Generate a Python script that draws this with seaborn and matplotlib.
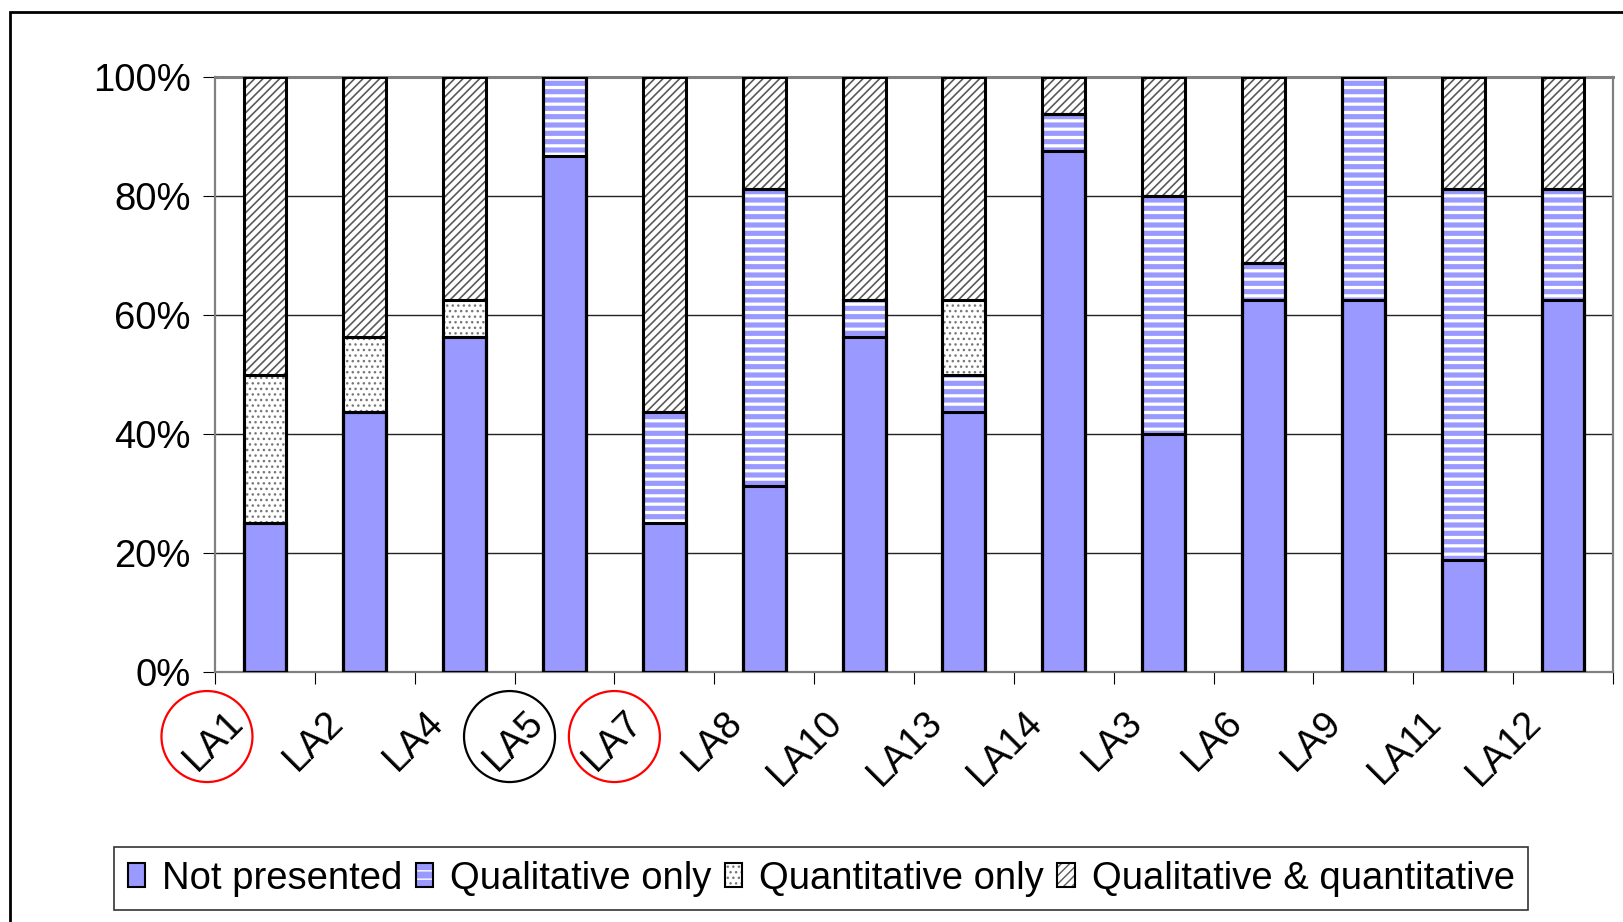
import matplotlib
matplotlib.use("Agg")
import matplotlib.pyplot as plt
import numpy as np
import pandas as pd
import seaborn as sns
from matplotlib.patches import Ellipse, Patch, Rectangle
from matplotlib.transforms import ScaledTranslation
from matplotlib.ticker import FuncFormatter

# Share of items per local authority (percent)
areas = ['LA1', 'LA2', 'LA4', 'LA5', 'LA7', 'LA8', 'LA10', 'LA13', 'LA14',
         'LA3', 'LA6', 'LA9', 'LA11', 'LA12']
not_presented = [25, 43.75, 56.25, 86.7, 25, 31.25, 56.25, 43.75, 87.5,
                 40, 62.5, 62.5, 18.75, 62.5]
qualitative_only = [0, 0, 0, 13.3, 18.75, 50, 6.25, 6.25, 6.25,
                    40, 6.25, 37.5, 62.5, 18.75]
quantitative_only = [25, 12.5, 6.25, 0, 0, 0, 0, 12.5, 0,
                     0, 0, 0, 0, 0]
qual_and_quant = [50, 43.75, 37.5, 0, 56.25, 18.75, 37.5, 37.5, 6.25,
                  20, 31.25, 0, 18.75, 18.75]
series_names = ['Not presented', 'Qualitative only', 'Quantitative only',
                'Qualitative & quantitative']

# areas that are ringed below the axis
circled = ['LA1', 'LA5', 'LA7']
circle_colors = ['red', 'black', 'red']
circle_dx = [-58, -55, -50]   # px from the tick, ellipse centre

df = pd.DataFrame({'area': areas, 'np': not_presented, 'ql': qualitative_only,
                   'qn': quantitative_only, 'both': qual_and_quant})
df['c1'] = df['np']
df['c2'] = df['c1'] + df['ql']
df['c3'] = df['c2'] + df['qn']
df['c4'] = df['c3'] + df['both']

sns.set_theme(style='white')
plt.rcParams['font.family'] = ['Liberation Sans', 'DejaVu Sans']
plt.rcParams['text.color'] = 'black'
plt.rcParams['xtick.color'] = 'black'
plt.rcParams['ytick.color'] = 'black'
plt.rcParams['xtick.labelcolor'] = 'black'
plt.rcParams['ytick.labelcolor'] = 'black'
FS = 27.5

fig = plt.figure(figsize=(16.23, 9.22), dpi=100)
ax = fig.add_axes([0.1325, 0.2711, 0.8613, 0.6454])

BLUE = '#9999FF'
# (cumulative column, face, hatch, hatch colour, hatch lw) drawn top layer first
styles = [('c4', 'white', '////', '#5a5a5a', 1.2),
          ('c3', 'white', '...', '#777777', 1.0),
          ('c2', BLUE, '--', 'white', 2.3),
          ('c1', BLUE, None, BLUE, 1.0)]

for col, face, hatch, hcol, hlw in styles:
    n0 = len(ax.patches)
    with plt.rc_context({'hatch.linewidth': hlw}):
        sns.barplot(data=df, x='area', y=col, color=face, saturation=1,
                    edgecolor=hcol, linewidth=0, hatch=hatch, width=0.43,
                    errorbar=None, ax=ax, zorder=2)
    for p in ax.patches[n0:]:
        if hasattr(p, 'set_hatch_linewidth'):
            p.set_hatch_linewidth(hlw)

# black outlines on every segment
for col, *_ in styles:
    n0 = len(ax.patches)
    sns.barplot(data=df, x='area', y=col, color='black', fill=False,
                linewidth=2.2, width=0.43, errorbar=None, ax=ax, zorder=3)
    for p in ax.patches[n0:]:
        p.set_facecolor('none')
        p.set_edgecolor('black')
        p.set_linewidth(2.2)

ax.set_ylim(0, 100)
ax.set_xlim(-0.5, len(areas) - 0.5)
ax.set_yticks([0, 20, 40, 60, 80, 100])
ax.yaxis.set_major_formatter(FuncFormatter(lambda v, pos: f'{v:.0f}%'))
ax.set_xticks(np.arange(-0.5, len(areas), 1), minor=True)
ax.set_xlabel('')
ax.set_ylabel('')

ax.set_axisbelow(True)
ax.yaxis.grid(True, color='#222222', linewidth=1.0)
ax.xaxis.grid(False)
for side, sp in ax.spines.items():
    sp.set_visible(True)
    sp.set_color('#808080')
    sp.set_linewidth(1.6)
ax.spines['top'].set_linewidth(2.2)

ax.tick_params(axis='y', which='major', direction='out', length=8.6, width=0.8,
               color='black', pad=9, labelsize=FS, left=True, labelcolor='black')
ax.tick_params(axis='x', which='minor', direction='out', length=8.6, width=0.8,
               color='black', bottom=True)
ax.tick_params(axis='x', which='major', length=0, pad=32, labelsize=FS,
               labelcolor='black')
shift = ScaledTranslation(-0.27, 0, fig.dpi_scale_trans)
for lab in ax.get_xticklabels():
    lab.set_rotation(45)
    lab.set_ha('right')
    lab.set_va('center')
    lab.set_rotation_mode('anchor')
    lab.set_transform(lab.get_transform() + shift)

# rings around some of the area labels
for name, c, dx in zip(circled, circle_colors, circle_dx):
    i = areas.index(name)
    ring = Ellipse((dx / 100, -0.645), 0.91, 0.91, fill=False, edgecolor=c,
                   linewidth=1.6,
                   transform=fig.dpi_scale_trans + ScaledTranslation(i, 0, ax.transData))
    fig.add_artist(ring)

# legend
leg_styles = [(BLUE, None, BLUE, 1.0), (BLUE, '--', 'white', 1.2),
              ('white', '...', '#777777', 1.0), ('white', '////', '#5a5a5a', 0.9)]
handles = []
for face, hatch, hcol, hlw in leg_styles:
    with plt.rc_context({'hatch.linewidth': hlw}):
        fillp = Patch(facecolor=face, edgecolor=hcol, hatch=hatch, linewidth=0)
    if hasattr(fillp, 'set_hatch_linewidth'):
        fillp.set_hatch_linewidth(hlw)
    outline = Patch(facecolor='none', edgecolor='black', linewidth=1.5)
    handles.append((fillp, outline))
leg = fig.legend(handles, series_names, loc='center', ncol=4,
                 bbox_to_anchor=(0.506, 0.047), bbox_transform=fig.transFigure,
                 fontsize=FS, frameon=True, fancybox=False, shadow=False,
                 handlelength=0.45, handleheight=0.6, handletextpad=0.45,
                 columnspacing=0.35, borderpad=0.35, framealpha=1)
leg.get_frame().set_edgecolor('#333333')
leg.get_frame().set_linewidth(1.2)
for t in leg.get_texts():
    t.set_color('black')

# outer frame (cut off at the right and bottom)
fig.add_artist(Rectangle((10 / 1623, -0.1), 1.2, 1.1 - 12 / 922, fill=False,
                         edgecolor='black', linewidth=2.0,
                         transform=fig.transFigure))

fig.savefig('out.png', dpi=100)
